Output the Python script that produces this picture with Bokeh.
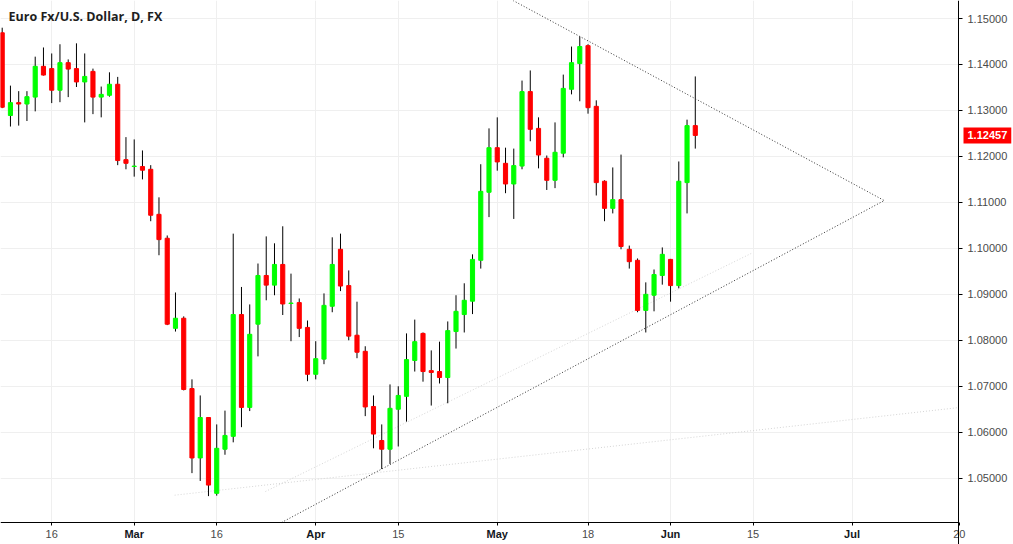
import pandas as pd
from bokeh.plotting import figure
from bokeh.models import (ColumnDataSource, FixedTicker, Label, Range1d, PrintfTickFormatter,
                          BoxAnnotation)
from bokeh.embed import file_html
from bokeh.resources import INLINE

TITLE = "Euro Fx/U.S. Dollar, D, FX"
FIRST_DAY = "2015-02-06"
LAST_AXIS_DAY = "2015-07-31"

opens = [1.1469, 1.1289, 1.1317, 1.1314, 1.1329, 1.1396, 1.1391, 1.1344, 1.1404, 1.1391,
         1.1362, 1.1385, 1.1329, 1.1333, 1.1357, 1.1193, 1.1178, 1.1178, 1.1172, 1.1074,
         1.1022, 1.0826, 1.0848, 1.0695, 1.0544, 1.0632, 1.0467, 1.0563, 1.0591, 1.0856,
         1.0654, 1.0835, 1.0941, 1.0920, 1.0965, 1.0880, 1.0882, 1.0828, 1.0726, 1.0759,
         1.0874, 1.0998, 1.0919, 1.0811, 1.0776, 1.0656, 1.0582, 1.0563, 1.0650, 1.0678,
         1.0756, 1.0815, 1.0734, 1.0732, 1.0719, 1.0819, 1.0856, 1.0885, 1.0974, 1.1122,
         1.1219, 1.1185, 1.1140, 1.1179, 1.1341, 1.1261, 1.1196, 1.1148, 1.1207, 1.1346,
         1.1402, 1.1441, 1.1309, 1.1146, 1.1087, 1.1106, 1.0998, 1.0974, 1.0865, 1.0898,
         1.0941, 1.0976, 1.0919, 1.1143, 1.1267]
highs = [1.1480, 1.1354, 1.1342, 1.1342, 1.1417, 1.1437, 1.1424, 1.1444, 1.1411, 1.1446,
         1.1424, 1.1391, 1.1352, 1.1383, 1.1373, 1.1242, 1.1237, 1.1213, 1.1181, 1.1111,
         1.1028, 1.0904, 1.0852, 1.0715, 1.0680, 1.0633, 1.0617, 1.0647, 1.1032, 1.0916,
         1.0878, 1.0967, 1.1026, 1.1011, 1.1048, 1.0945, 1.0891, 1.0843, 1.0798, 1.0902,
         1.1024, 1.1032, 1.0952, 1.0884, 1.0787, 1.0680, 1.0617, 1.0704, 1.0700, 1.0815,
         1.0845, 1.0817, 1.0778, 1.0797, 1.0841, 1.0898, 1.0924, 1.0987, 1.1183, 1.1261,
         1.1285, 1.1219, 1.1217, 1.1365, 1.1387, 1.1285, 1.1202, 1.1274, 1.1378, 1.1439,
         1.1461, 1.1444, 1.1322, 1.1148, 1.1176, 1.1204, 1.1006, 1.0978, 1.0926, 1.0954,
         1.1002, 1.0977, 1.1189, 1.1280, 1.1374]
lows = [1.1305, 1.1265, 1.1267, 1.1277, 1.1298, 1.1376, 1.1316, 1.1318, 1.1329, 1.1351,
        1.1274, 1.1292, 1.1285, 1.1330, 1.1181, 1.1172, 1.1156, 1.1150, 1.1059, 1.0985,
        1.0833, 1.0819, 1.0691, 1.0511, 1.0494, 1.0461, 1.0462, 1.0551, 1.0578, 1.0611,
        1.0646, 1.0765, 1.0887, 1.0898, 1.0855, 1.0798, 1.0807, 1.0711, 1.0715, 1.0748,
        1.0861, 1.0907, 1.0800, 1.0761, 1.0635, 1.0565, 1.0520, 1.0531, 1.0569, 1.0623,
        1.0732, 1.0710, 1.0658, 1.0706, 1.0663, 1.0782, 1.0817, 1.0857, 1.0956, 1.1068,
        1.1169, 1.1120, 1.1064, 1.1172, 1.1233, 1.1174, 1.1127, 1.1131, 1.1198, 1.1335,
        1.1320, 1.1293, 1.1115, 1.1059, 1.1076, 1.0998, 1.0956, 1.0861, 1.0817, 1.0863,
        1.0921, 1.0884, 1.0913, 1.1076, 1.1217]
closes = [1.1307, 1.1317, 1.1314, 1.1330, 1.1396, 1.1377, 1.1344, 1.1404, 1.1390, 1.1362,
          1.1374, 1.1329, 1.1335, 1.1357, 1.1191, 1.1185, 1.1179, 1.1170, 1.1072, 1.1019,
          1.0835, 1.0848, 1.0693, 1.0544, 1.0632, 1.0485, 1.0565, 1.0593, 1.0856, 1.0654,
          1.0813, 1.0941, 1.0920, 1.0965, 1.0879, 1.0881, 1.0826, 1.0726, 1.0760, 1.0876,
          1.0965, 1.0918, 1.0809, 1.0774, 1.0655, 1.0596, 1.0563, 1.0652, 1.0680, 1.0758,
          1.0797, 1.0732, 1.0730, 1.0719, 1.0821, 1.0863, 1.0887, 1.0976, 1.1124, 1.1219,
          1.1188, 1.1140, 1.1180, 1.1341, 1.1259, 1.1203, 1.1148, 1.1209, 1.1348, 1.1404,
          1.1439, 1.1306, 1.1143, 1.1087, 1.1106, 1.1004, 1.0971, 1.0865, 1.0900, 1.0943,
          1.0987, 1.0919, 1.1146, 1.1267, 1.12457]

tick_dates = ["2015-02-16", "2015-03-02", "2015-03-16", "2015-04-01", "2015-04-15",
              "2015-05-01", "2015-05-18", "2015-06-01", "2015-06-15", "2015-07-01", "2015-07-20"]
tick_labels = ["16", "Mar", "16", "Apr", "15", "May", "18", "Jun", "15", "Jul", "20"]
tick_is_month = [False, True, False, True, False, True, False, True, False, True, False]
y_ticks = [1.05, 1.06, 1.07, 1.08, 1.09, 1.10, 1.11, 1.12, 1.13, 1.14, 1.15]
last_price = 1.12457

# drawings, anchored as (bar index, price)
upper_trend = [(70, 1.1461), (106.9, 1.1104)]
lower_trend = [(46, 1.0520), (106.9, 1.1104)]
faint_a = [(20.9, 1.0463), (56.8, 1.0535)]
faint_b = [(31.9, 1.0471), (90.9, 1.0990)]

UP = "#00ff00"
DOWN = "#ff0000"

cal = pd.bdate_range(FIRST_DAY, LAST_AXIS_DAY)
n = len(opens)
idx = list(range(n))
src = ColumnDataSource(dict(
    i=idx, open=opens, high=highs, low=lows, close=closes,
    top=[max(o, c) for o, c in zip(opens, closes)],
    bottom=[min(o, c) for o, c in zip(opens, closes)],
    color=[UP if c >= o else DOWN for o, c in zip(opens, closes)],
))
tick_idx = [int(cal.get_loc(pd.Timestamp(d))) for d in tick_dates]

# visible price pane (axes sit at X1 / Y0), whole canvas is the frame
X0, X1 = -0.206, 115.9
Y0, Y1 = 1.04036, 1.15392
PANE_W, PANE_H = 958, 522
FULL_W, FULL_H = 1013, 544
x_per_px = (X1 - X0) / PANE_W
y_per_px = (Y1 - Y0) / PANE_H
XR = X0 + FULL_W * x_per_px
YB = Y1 - FULL_H * y_per_px

p = figure(frame_width=FULL_W, frame_height=FULL_H, x_range=Range1d(X0, XR),
           y_range=Range1d(YB, Y1), output_backend="svg", toolbar_location=None,
           y_axis_location="right",
           min_border_left=0, min_border_right=0, min_border_top=0, min_border_bottom=0)
p.outline_line_color = None
p.background_fill_color = "white"
p.border_fill_color = "white"

p.xgrid.ticker = FixedTicker(ticks=tick_idx)
p.ygrid.ticker = FixedTicker(ticks=y_ticks)
for g in (p.xgrid, p.ygrid):
    g.grid_line_color = "#efefef"
    g.grid_line_width = 1

# white bands hiding grid lines under the price scale and the time scale
p.add_layout(BoxAnnotation(left=X1, fill_color="white", fill_alpha=1, line_color=None, level="underlay"))
p.add_layout(BoxAnnotation(top=Y0, fill_color="white", fill_alpha=1, line_color=None, level="underlay"))

# y axis (price scale)
ya = p.yaxis[0]
ya.fixed_location = X1
ya.ticker = FixedTicker(ticks=y_ticks)
ya.formatter = PrintfTickFormatter(format="%.5f")
ya.major_label_text_font = "Liberation Sans"
ya.major_label_text_font_size = "11px"
ya.major_label_text_color = "#4a4a4a"
ya.axis_line_color = "black"
ya.major_tick_line_color = "black"
ya.major_tick_out = 4
ya.major_tick_in = 0
ya.minor_tick_line_color = None
ya.major_label_standoff = 5

# x axis (time scale)
xa = p.xaxis[0]
xa.fixed_location = Y0
xa.bounds = (X0, X1)
xa.ticker = FixedTicker(ticks=tick_idx)
xa.major_label_overrides = {t: ("" if m else lab) for t, lab, m in zip(tick_idx, tick_labels, tick_is_month)}
xa.major_label_text_font = "Liberation Sans"
xa.major_label_text_font_size = "11px"
xa.major_label_text_color = "#4a4a4a"
xa.axis_line_color = "black"
xa.major_tick_line_color = "black"
xa.major_tick_out = 3
xa.major_tick_in = 0
xa.minor_tick_line_color = None
xa.major_label_standoff = 4


def line_through(anchors, x_from, x_to):
    (xa_, ya_), (xb, yb) = anchors
    k = (yb - ya_) / (xb - xa_)
    return [x_from, x_to], [ya_ + k * (x_from - xa_), ya_ + k * (x_to - xa_)]


def x_at_price(anchors, price):
    (xa_, ya_), (xb, yb) = anchors
    return xa_ + (price - ya_) * (xb - xa_) / (yb - ya_)


# faint drawings
fx, fy = line_through(faint_a, faint_a[0][0], X1)
p.line(fx, fy, line_color="#d6d6d6", line_width=1, line_dash="1 2")
p.line([faint_b[0][0], faint_b[1][0]], [faint_b[0][1], faint_b[1][1]],
       line_color="#d6d6d6", line_width=1, line_dash="1 2")

# candles
p.segment(x0="i", y0="low", x1="i", y1="high", line_color="black", line_width=1, source=src)
p.vbar(x="i", width=0.5, top="top", bottom="bottom", fill_color="color", line_color="color",
       line_width=1, source=src)

# triangle trend lines
ux, uy = line_through(upper_trend, x_at_price(upper_trend, Y1), upper_trend[1][0])
p.line(ux, uy, line_color="#333333", line_width=1, line_dash="1 2")
lx, ly = line_through(lower_trend, x_at_price(lower_trend, Y0), lower_trend[1][0])
p.line(lx, ly, line_color="#333333", line_width=1, line_dash="1 2")

# month names in bold on the time scale
month_y = Y0 - 11 * y_per_px
for t, lab, m in zip(tick_idx, tick_labels, tick_is_month):
    if m and t <= X1:
        p.add_layout(Label(x=t, y=month_y, text=lab, text_align="center", text_baseline="middle",
                           text_font="Liberation Sans", text_font_size="11px",
                           text_font_style="bold", text_color="#131722"))

# title
p.add_layout(Label(x=X0 + 8 * x_per_px, y=Y1 - 16 * y_per_px, text=TITLE, text_align="left",
                   text_baseline="middle", text_font="Open Sans", text_font_size="12.5px",
                   text_font_style="bold", text_color="#1e1e1e"))

# last price tag on the price scale
p.add_layout(Label(x=X1, y=last_price, text=f"{last_price:.5f}", text_align="left",
                   text_baseline="middle", x_offset=5,
                   text_font="Liberation Sans", text_font_size="11px", text_font_style="bold",
                   text_color="white", background_fill_color=DOWN, padding=4))

open("out.html", "w").write(file_html(p, INLINE))
